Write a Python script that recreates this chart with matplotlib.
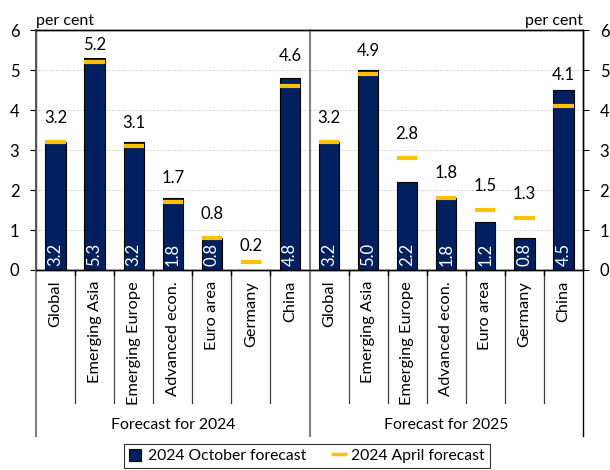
import matplotlib
matplotlib.use("Agg")
import matplotlib.pyplot as plt
import numpy as np
from matplotlib.lines import Line2D
from matplotlib.patches import Patch

plt.rcParams['font.family'] = ['Lato', 'DejaVu Sans']
plt.rcParams['font.size'] = 11

regions = ["Global", "Emerging Asia", "Emerging Europe", "Advanced econ.",
           "Euro area", "Germany", "China"]
groups = ["Forecast for 2024", "Forecast for 2025"]
october = [3.2, 5.3, 3.2, 1.8, 0.8, 0.0, 4.8,
           3.2, 5.0, 2.2, 1.8, 1.2, 0.8, 4.5]
april = [3.2, 5.2, 3.1, 1.7, 0.8, 0.2, 4.6,
         3.2, 4.9, 2.8, 1.8, 1.5, 1.3, 4.1]
# vertical offset (pixels) of the april labels above their dash
label_off = [24, 17, 23, 24, 24, 16, 30,
             24, 23, 24, 25, 24, 24, 31]

navy = "#002060"
gold = "#FFC000"
w = 0.52

fig = plt.figure(figsize=(6.1, 4.7), dpi=100)
ax = fig.add_axes([36/610, 1 - 270/470, (583 - 36)/610, 240/470])

x = np.arange(len(october))
ax.bar(x, october, width=w, color=navy, edgecolor="black", linewidth=0.8, zorder=3)
ax.hlines(april, x - w/2, x + w/2, colors=gold, linewidth=3, zorder=4)

for xi, o, a, off in zip(x, october, april, label_off):
    if o > 0:
        ax.annotate(f"{o:.1f}", (xi, 0), xytext=(0, 4), textcoords="offset pixels",
                    rotation=90, ha="center", va="bottom", color="white",
                    fontsize=12, zorder=5)
    ax.annotate(f"{a:.1f}", (xi, a), xytext=(0, off), textcoords="offset pixels",
                ha="center", va="center", color="black", fontsize=12, zorder=5)

ax.set_xlim(-0.5, 13.5)
ax.set_ylim(0, 6)
ax.set_yticks(range(7))
ax.set_xticks([])
ax.yaxis.grid(True, linestyle=(0, (1, 1.5)), color="#c8c8c8", linewidth=0.7)
ax.set_axisbelow(True)
ax.tick_params(axis="y", length=4, labelsize=12, pad=8, color="black")

ax2 = ax.twinx()
ax2.set_ylim(0, 6)
ax2.set_yticks(range(7))
ax2.tick_params(axis="y", length=4, labelsize=12, pad=8)

for a_ in (ax, ax2):
    a_.spines["top"].set_color("black")
    a_.spines["bottom"].set_color("black")
    a_.spines["right"].set_color("black")
    a_.spines["left"].set_color("#595959")
    for s in a_.spines.values():
        s.set_linewidth(1.0)
ax.spines["left"].set_linewidth(1.5)

ax.text(0.0, 1.01, "per cent", transform=ax.transAxes, ha="left", va="bottom", fontsize=11.5)
ax.text(1.0, 1.01, "per cent", transform=ax.transAxes, ha="right", va="bottom", fontsize=11.5)

trans = ax.get_xaxis_transform()
cats = regions + regions
for xi, c in zip(x, cats):
    ax.text(xi, -0.045, c, transform=trans, rotation=90, ha="center", va="top",
            fontsize=11.8, clip_on=False)
for b in np.arange(0.5, 13.5, 1.0):
    if b == 6.5:
        continue
    ax.add_line(Line2D([b, b], [0, -0.555], transform=trans, color="#404040",
                       linewidth=0.9, clip_on=False))
    ax.add_line(Line2D([b, b], [0, -0.02], transform=trans, color="black",
                       linewidth=1.0, clip_on=False))
for b, col in ((-0.5, "#808080"), (6.5, "#808080"), (13.5, "black")):
    top = 1.0 if b == 6.5 else 0
    ax.add_line(Line2D([b, b], [top, -0.69], transform=trans, color=col,
                       linewidth=1.5 if b != 13.5 else 1.0, clip_on=False, zorder=6))
ax.text(3, -0.645, groups[0], transform=trans, ha="center", va="center", fontsize=11.3)
ax.text(10, -0.645, groups[1], transform=trans, ha="center", va="center", fontsize=11.3)

handles = [Patch(facecolor=navy, edgecolor="black", linewidth=0.8),
           Line2D([0], [0], color=gold, linewidth=2.5)]
leg = fig.legend(handles, ["2024 October forecast", "2024 April forecast"],
                 loc="upper center", bbox_to_anchor=(307/610, 1 - 444/470), ncol=2,
                 frameon=True, fancybox=False, edgecolor="black", fontsize=11.3,
                 handlelength=0.8, handleheight=0.8, handletextpad=0.4,
                 columnspacing=1.7, borderpad=0.3, borderaxespad=0)
leg.get_frame().set_linewidth(0.8)

fig.savefig("out.png", dpi=100)
